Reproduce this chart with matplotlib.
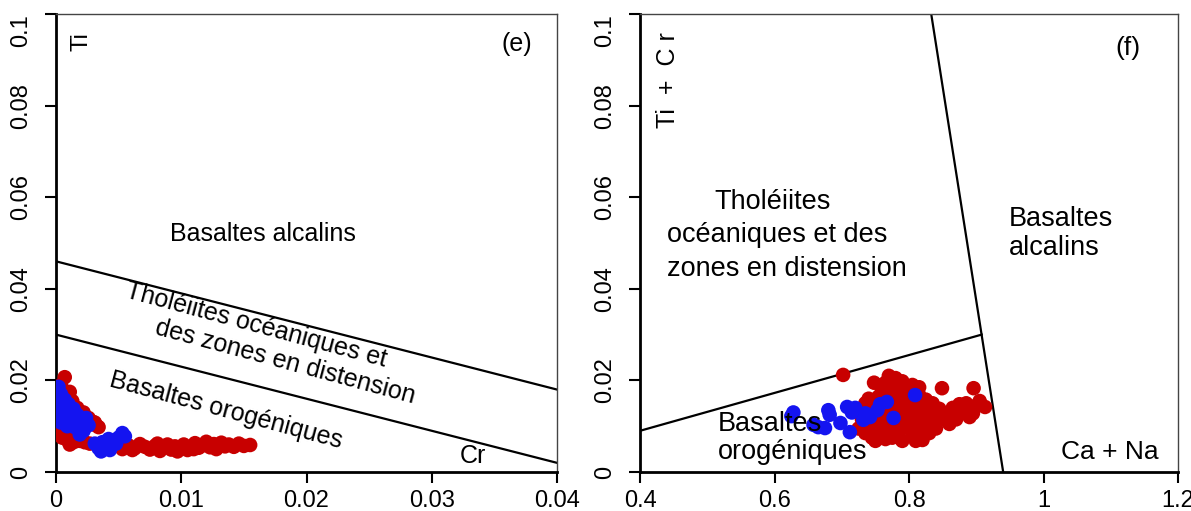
import matplotlib.pyplot as plt

plt.rcParams['font.family'] = ['Liberation Sans', 'DejaVu Sans']

# panel (e): Ti vs Cr
e_red_x = [0.0007, 0.0004, 0.0011, 0.0006, 0.0013, 0.0003, 0.0017, 0.0009, 0.0022, 0.0026,
           0.0031, 0.0034, 0.0003, 0.0006, 0.0002, 0.0008, 0.0012, 0.0016, 0.0005, 0.0019,
           0.0023, 0.0014, 0.0027, 0.0009, 0.0002, 0.0035, 0.0040, 0.0048, 0.0053,
           0.0058, 0.0063, 0.0067, 0.0071, 0.0075, 0.0079, 0.0083, 0.0086, 0.0089, 0.0092,
           0.0095, 0.0099, 0.0102, 0.0105, 0.0108, 0.0111, 0.0114, 0.0117, 0.0120, 0.0123,
           0.0126, 0.0129, 0.0132, 0.0135, 0.0138, 0.0142, 0.0146, 0.0150, 0.0155, 0.0081,
           0.0097, 0.0110, 0.0061, 0.0128, 0.0029, 0.0032, 0.0001, 0.0011, 0.0020]
e_red_y = [0.0207, 0.0190, 0.0175, 0.0160, 0.0155, 0.0145, 0.0140, 0.0135, 0.0130, 0.0118,
           0.0108, 0.0098, 0.0105, 0.0095, 0.0085, 0.0082, 0.0078, 0.0074, 0.0075, 0.0068,
           0.0065, 0.0065, 0.0062, 0.0070, 0.0095, 0.0060, 0.0052, 0.0058, 0.0050,
           0.0058, 0.0052, 0.0061, 0.0055, 0.0049, 0.0057, 0.0046, 0.0053, 0.0060, 0.0049,
           0.0056, 0.0052, 0.0060, 0.0048, 0.0055, 0.0063, 0.0053, 0.0058, 0.0066, 0.0054,
           0.0061, 0.0057, 0.0064, 0.0056, 0.0060, 0.0055, 0.0062, 0.0057, 0.0059, 0.0062,
           0.0045, 0.0050, 0.0048, 0.0050, 0.0110, 0.0102, 0.0115, 0.0060, 0.0072]
e_blue_x = [0.0002, 0.0004, 0.0002, 0.0007, 0.0005, 0.0010, 0.0014, 0.0003, 0.0008, 0.0012,
            0.0017, 0.0020, 0.0024, 0.0026, 0.0015, 0.0022, 0.0004, 0.0009, 0.0019,
            0.0031, 0.0034, 0.0037, 0.0040, 0.0043, 0.0045, 0.0048, 0.0050, 0.0053, 0.0055,
            0.0042, 0.0036]
e_blue_y = [0.0186, 0.0170, 0.0155, 0.0158, 0.0140, 0.0148, 0.0138, 0.0125, 0.0122, 0.0115,
            0.0125, 0.0112, 0.0118, 0.0102, 0.0098, 0.0090, 0.0108, 0.0100, 0.0082,
            0.0062, 0.0052, 0.0065, 0.0058, 0.0048, 0.0068, 0.0062, 0.0075, 0.0085, 0.0078,
            0.0072, 0.0045]

# panel (f): Ti + Cr vs Ca + Na
f_red_x = [0.702, 0.748, 0.849, 0.896, 0.913,
           0.770, 0.780, 0.790, 0.760, 0.775, 0.795, 0.805, 0.785, 0.800, 0.815,
           0.770, 0.755, 0.740, 0.825, 0.790, 0.735, 0.760, 0.775, 0.800, 0.820,
           0.835, 0.730, 0.745, 0.765, 0.785, 0.810, 0.830, 0.845, 0.730, 0.750,
           0.770, 0.790, 0.805, 0.825, 0.840, 0.725, 0.740, 0.760, 0.780, 0.800,
           0.820, 0.835, 0.745, 0.765, 0.785, 0.805, 0.820, 0.750, 0.790, 0.810,
           0.855, 0.865, 0.870, 0.880, 0.885, 0.895, 0.900, 0.905, 0.860, 0.875,
           0.890, 0.850, 0.770, 0.795, 0.815, 0.755, 0.780, 0.810, 0.760, 0.790,
           0.745, 0.755, 0.770, 0.780, 0.795, 0.810, 0.830, 0.775, 0.760, 0.735,
           0.800, 0.815, 0.785, 0.765, 0.820, 0.840, 0.850, 0.740]
f_red_y = [0.0212, 0.0195, 0.0183, 0.0183, 0.0142,
           0.0210, 0.0205, 0.0198, 0.0190, 0.0185, 0.0188, 0.0190, 0.0175, 0.0172, 0.0168,
           0.0170, 0.0165, 0.0160, 0.0158, 0.0160, 0.0150, 0.0148, 0.0143, 0.0145, 0.0145,
           0.0150, 0.0135, 0.0130, 0.0125, 0.0130, 0.0130, 0.0135, 0.0138, 0.0115, 0.0110,
           0.0108, 0.0112, 0.0115, 0.0118, 0.0122, 0.0095, 0.0090, 0.0088, 0.0090, 0.0095,
           0.0098, 0.0102, 0.0075, 0.0072, 0.0075, 0.0078, 0.0082, 0.0068, 0.0068, 0.0068,
           0.0125, 0.0140, 0.0115, 0.0135, 0.0150, 0.0128, 0.0145, 0.0155, 0.0105, 0.0148,
           0.0120, 0.0115, 0.0098, 0.0100, 0.0090, 0.0080, 0.0082, 0.0155, 0.0178, 0.0150,
           0.0145, 0.0125, 0.0135, 0.0155, 0.0145, 0.0105, 0.0085, 0.0075, 0.0100, 0.0085,
           0.0125, 0.0185, 0.0195, 0.0195, 0.0070, 0.0095, 0.0130, 0.0105]
f_blue_x = [0.628, 0.625, 0.658, 0.665, 0.675, 0.680, 0.682, 0.698, 0.712, 0.708,
            0.720, 0.715, 0.732, 0.742, 0.753, 0.757, 0.767, 0.777, 0.809, 0.735]
f_blue_y = [0.0130, 0.0122, 0.0103, 0.0098, 0.0096, 0.0135, 0.0125, 0.0107, 0.0087, 0.0142,
            0.0140, 0.0130, 0.0114, 0.0120, 0.0135, 0.0148, 0.0153, 0.0118, 0.0168, 0.0128]

# field boundaries
e_line1_x, e_line1_y = [0, 0.04], [0.046, 0.018]
e_line2_x, e_line2_y = [0, 0.04], [0.030, 0.002]
f_line1_x, f_line1_y = [0.4, 0.908], [0.009, 0.030]
f_line2_x, f_line2_y = [0.833, 0.94], [0.1, 0.0]

red = '#c80000'
blue = '#1414f0'
fs = 17
ms = 110

fig = plt.figure(figsize=(11.91, 5.11), dpi=100)
ax1 = fig.add_axes([0.047, 0.0763, 0.4207, 0.8963])
ax2 = fig.add_axes([0.5374, 0.0763, 0.4517, 0.8963])

for ax in (ax1, ax2):
    ax.set_ylim(0, 0.1)
    ax.set_yticks([0, 0.02, 0.04, 0.06, 0.08, 0.1])
    ax.set_yticklabels(['0', '0.02', '0.04', '0.06', '0.08', '0.1'],
                       rotation=90, va='center', fontsize=fs)
    ax.get_yticklabels()[-1].set_va('top')
    ax.tick_params(axis='y', length=8, width=1.5, direction='out', labelsize=fs, pad=9)
    ax.tick_params(axis='x', length=8, width=1.5, direction='out', labelsize=fs, pad=5)
    for s in ('left', 'bottom'):
        ax.spines[s].set_linewidth(2)
    for s in ('top', 'right'):
        ax.spines[s].set_linewidth(1)
        ax.spines[s].set_color('#444444')

ax1.set_xlim(0, 0.04)
ax1.set_xticks([0, 0.01, 0.02, 0.03, 0.04])
ax1.set_xticklabels(['0', '0.01', '0.02', '0.03', '0.04'], fontsize=fs)
ax1.plot(e_line1_x, e_line1_y, color='black', lw=1.6)
ax1.plot(e_line2_x, e_line2_y, color='black', lw=1.6)
ax1.scatter(e_red_x, e_red_y, s=ms, color=red, edgecolors='none', zorder=3)
ax1.scatter(e_blue_x, e_blue_y, s=ms, color=blue, edgecolors='none', zorder=4)
ax1.text(0.002, 0.0939, 'Ti', rotation=90, fontsize=fs, ha='center', va='center')
ax1.text(0.0368, 0.0934, '(e)', fontsize=18, ha='center', va='center')
ax1.text(0.0165, 0.052, 'Basaltes alcalins', fontsize=18, ha='center', va='center')
ax1.text(0.016, 0.032, 'Tholéiites océaniques et', fontsize=18,
         ha='center', va='center', rotation=-15, rotation_mode='anchor')
ax1.text(0.0183, 0.024, 'des zones en distension', fontsize=18,
         ha='center', va='center', rotation=-15, rotation_mode='anchor')
ax1.text(0.0136, 0.0135, 'Basaltes orogéniques', fontsize=18,
         ha='center', va='center', rotation=-15, rotation_mode='anchor')
ax1.text(0.0333, 0.0035, 'Cr', fontsize=18, ha='center', va='center')

ax2.set_xlim(0.4, 1.2)
ax2.set_xticks([0.4, 0.6, 0.8, 1.0, 1.2])
ax2.set_xticklabels(['0.4', '0.6', '0.8', '1', '1.2'], fontsize=fs)
ax2.plot(f_line1_x, f_line1_y, color='black', lw=1.6)
ax2.plot(f_line2_x, f_line2_y, color='black', lw=1.6)
ax2.scatter(f_red_x, f_red_y, s=ms, color=red, edgecolors='none', zorder=3)
ax2.scatter(f_blue_x, f_blue_y, s=ms, color=blue, edgecolors='none', zorder=4)
ax2.text(0.441, 0.0856, 'Ti  +  C r', rotation=90, fontsize=18, ha='center', va='center')
ax2.text(1.125, 0.0926, '(f)', fontsize=19, ha='center', va='center')
ax2.text(0.511, 0.0590, 'Tholéiites', fontsize=19.5, ha='left', va='center')
ax2.text(0.440, 0.0517, 'océaniques et des', fontsize=19.5, ha='left', va='center')
ax2.text(0.440, 0.0443, 'zones en distension', fontsize=19.5, ha='left', va='center')
ax2.text(0.948, 0.0520, 'Basaltes\nalcalins', fontsize=19.5, ha='left', va='center',
         linespacing=1.15)
ax2.text(0.516, 0.0074, 'Basaltes\norogéniques', fontsize=19.5, ha='left', va='center',
         linespacing=1.1, zorder=5)
ax2.text(1.098, 0.0044, 'Ca + Na', fontsize=19, ha='center', va='center')

fig.savefig('out.png', dpi=100)
